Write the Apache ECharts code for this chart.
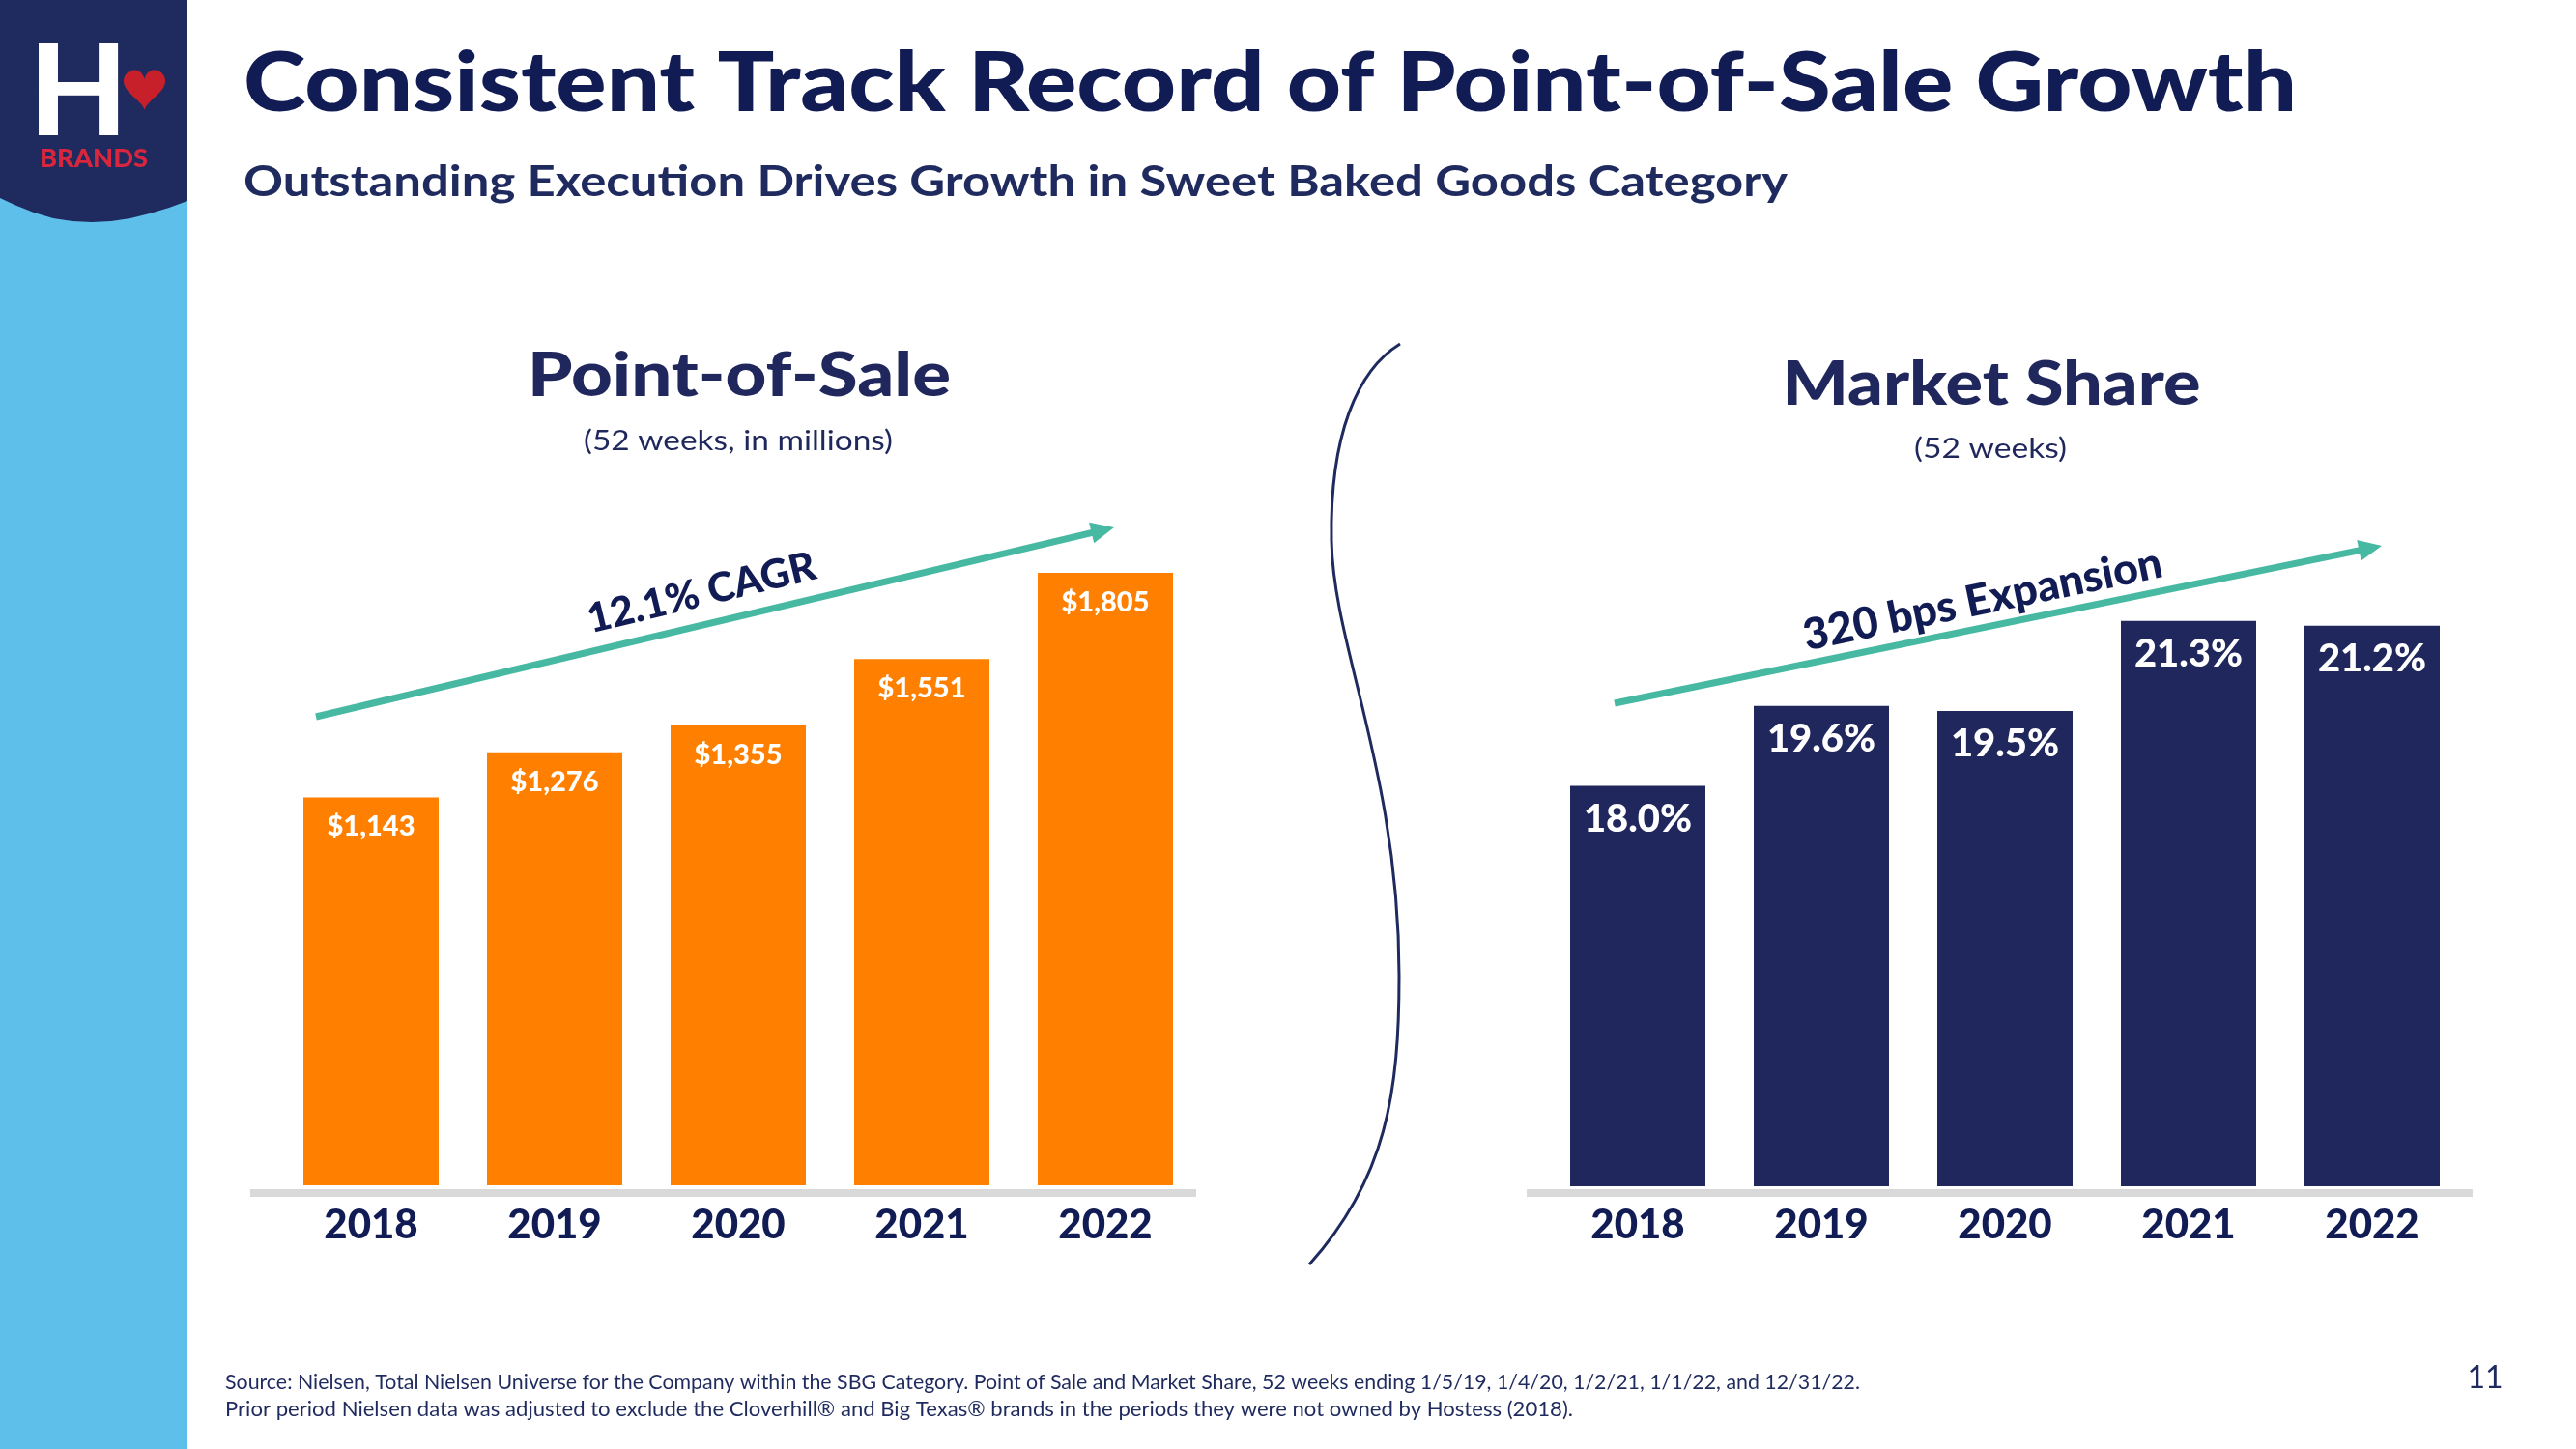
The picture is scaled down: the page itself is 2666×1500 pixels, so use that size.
<!DOCTYPE html>
<html>
<head>
<meta charset="utf-8">
<script src="https://cdn.jsdelivr.net/npm/echarts@6/dist/echarts.min.js"></script>
<style>
html,body{margin:0;padding:0;background:#fff;}
#chart{width:2666px;height:1500px;}
</style>
</head>
<body>
<div id="chart"></div>
<script>
// ---- data ----
const years = ['2018', '2019', '2020', '2021', '2022'];
const posValues = [1143, 1276, 1355, 1551, 1805];
const shareValues = [18.0, 19.6, 19.5, 21.3, 21.2];
const posTrendText = '12.1% CAGR';
const shareTrendText = '320 bps Expansion';
const mainTitle = 'Consistent Track Record of Point-of-Sale Growth';
const subTitle = 'Outstanding Execution Drives Growth in Sweet Baked Goods Category';
const posTitle = 'Point-of-Sale';
const posSub = '(52 weeks, in millions)';
const shareTitle = 'Market Share';
const shareSub = '(52 weeks)';
const footLine1 = 'Source: Nielsen, Total Nielsen Universe for the Company within the SBG Category. Point of Sale and Market Share, 52 weeks ending 1/5/19, 1/4/20, 1/2/21, 1/1/22, and 12/31/22.';
const footLine2 = 'Prior period Nielsen data was adjusted to exclude the Cloverhill\u00AE and Big Texas\u00AE brands in the periods they were not owned by Hostess (2018).';
const pageNumber = '11';

// ---- style ----
const NAVY = '#111B54';
const NAVY2 = '#1F275C';
const ORANGE = '#FF7F00';
const TEAL = '#47B9A2';
const FAMILY = 'Lato';
const FONT = 'Lato, "Noto Sans", sans-serif';

const measureCtx = document.createElement('canvas').getContext('2d');
function textWidth(text, size, weight) {
  measureCtx.font = weight + ' ' + size + 'px ' + FAMILY;
  return measureCtx.measureText(text).width;
}
// text stretched horizontally to the width the slide's (wider) typeface takes
function fitText(text, x, y, size, weight, width, align, color, z) {
  const sx = width / textWidth(text, size, weight);
  return { type: 'text', x: x, y: y, scaleX: sx, z: z || 5,
    style: { text: text, fill: color, fontSize: size, fontWeight: weight, fontFamily: FONT, align: align, verticalAlign: 'middle' } };
}

function arrow(x1, y1, x2, y2) {
  const dx = x2 - x1, dy = y2 - y1;
  const len = Math.sqrt(dx * dx + dy * dy);
  const ux = dx / len, uy = dy / len;
  const nx = -uy, ny = ux;
  const hl = 24, hw = 11;
  const bx = x2 - ux * hl, by = y2 - uy * hl;
  return [
    { type: 'line', shape: { x1: x1, y1: y1, x2: bx + ux * 2, y2: by + uy * 2 },
      style: { stroke: TEAL, lineWidth: 7 }, z: 10 },
    { type: 'polygon', shape: { points: [[x2, y2], [bx + nx * hw, by + ny * hw], [bx - nx * hw, by - ny * hw]] },
      style: { fill: TEAL }, z: 10 }
  ];
}

// logo heart outline (decoration)
function heartPoints(cx, cy, w, h) {
  const pts = [];
  for (let i = 0; i < 72; i++) {
    const t = i / 72 * Math.PI * 2;
    const x = 16 * Math.pow(Math.sin(t), 3);
    const y = 13 * Math.cos(t) - 5 * Math.cos(2 * t) - 2 * Math.cos(3 * t) - Math.cos(4 * t);
    pts.push([cx + x / 32 * w, cy - (y - 2.5) / 29 * h]);
  }
  return pts;
}

function fmtMoney(v) {
  return '$' + v.toLocaleString('en-US');
}

const chart = echarts.init(document.getElementById('chart'), null, { renderer: 'canvas' });

const graphics = [
  // sidebar
  { type: 'rect', shape: { x: 0, y: 0, width: 194, height: 1500 }, style: { fill: '#5FBFEB' }, z: 0 },
  { type: 'polygon', shape: { points: [[0, 0], [194, 0], [194, 208], [175, 215], [155, 221], [135, 226], [115, 229], [95, 230], [75, 229], [55, 226], [35, 220], [15, 212], [0, 205]] },
    style: { fill: '#1F2A5E' }, z: 1 },
  { type: 'text', x: 81, y: 97, style: { text: 'H', fill: '#ffffff', fontSize: 132, fontWeight: 900, fontFamily: FONT, align: 'center', verticalAlign: 'middle' }, z: 2 },
  { type: 'polygon', shape: { points: heartPoints(149.5, 86, 43, 42) }, style: { fill: '#C8202B' }, z: 2 },
  fitText('BRANDS', 97, 164, 27, 900, 112, 'center', '#D7263D', 2),

  // slide titles
  fitText(mainTitle, 252, 87, 86, 900, 2125, 'left', NAVY),
  fitText(subTitle, 252, 189, 44, 700, 1598, 'left', '#1F2A5E'),

  // chart headings
  fitText(posTitle, 765, 390, 62, 900, 438, 'center', NAVY2),
  fitText(posSub, 764, 457, 29, 400, 320, 'center', NAVY2),
  fitText(shareTitle, 2061, 399, 62, 900, 433, 'center', NAVY2),
  fitText(shareSub, 2060, 465, 29, 400, 158, 'center', NAVY2),

  // baselines
  { type: 'rect', shape: { x: 259, y: 1231, width: 979, height: 8 }, style: { fill: '#D9D9D9' } },
  { type: 'rect', shape: { x: 1580, y: 1231, width: 979, height: 8 }, style: { fill: '#D9D9D9' } },

  // trend labels
  { type: 'text', x: 726, y: 614, rotation: 13.6 * Math.PI / 180, style: { text: posTrendText, fill: NAVY, fontSize: 42, fontWeight: 900, fontFamily: FONT, align: 'center', verticalAlign: 'middle' }, z: 11 },
  { type: 'text', x: 2052, y: 621, rotation: 11.7 * Math.PI / 180, style: { text: shareTrendText, fill: NAVY, fontSize: 45, fontWeight: 900, fontFamily: FONT, align: 'center', verticalAlign: 'middle' }, z: 11 },

  // divider S-curve
  { type: 'bezierCurve', shape: { x1: 1449, y1: 356, cpx1: 1405, cpy1: 383, cpx2: 1376, cpy2: 450, x2: 1378, y2: 560 }, style: { stroke: '#1F2A5E', lineWidth: 3, fill: null } },
  { type: 'bezierCurve', shape: { x1: 1378, y1: 560, cpx1: 1380, cpy1: 670, cpx2: 1448, cpy2: 800, x2: 1448, y2: 1010 }, style: { stroke: '#1F2A5E', lineWidth: 3, fill: null } },
  { type: 'bezierCurve', shape: { x1: 1448, y1: 1010, cpx1: 1448, cpy1: 1130, cpx2: 1435, cpy2: 1220, x2: 1355, y2: 1309 }, style: { stroke: '#1F2A5E', lineWidth: 3, fill: null } },

  // footnote and page number
  fitText(footLine1, 233, 1431, 21, 400, 1692, 'left', '#1F2A5E'),
  fitText(footLine2, 233, 1459, 21, 400, 1395, 'left', '#1F2A5E'),
  { type: 'text', x: 2572, y: 1427, style: { text: pageNumber, fill: '#1F2A5E', fontSize: 32, fontWeight: 400, fontFamily: FONT, align: 'center', verticalAlign: 'middle' } }
].concat(arrow(327, 742, 1153, 546)).concat(arrow(1671, 728, 2465, 565));

const option = {
  animation: false,
  backgroundColor: '#ffffff',
  grid: [
    { left: 289, top: 524.6, width: 950, height: 702.4 },
    { left: 1600, top: 451, width: 950, height: 777 }
  ],
  xAxis: [
    { type: 'category', gridIndex: 0, data: years, axisLine: { show: false }, axisTick: { show: false },
      axisLabel: { fontSize: 42, fontWeight: 900, color: NAVY, fontFamily: FONT, margin: 20 } },
    { type: 'category', gridIndex: 1, data: years, axisLine: { show: false }, axisTick: { show: false },
      axisLabel: { fontSize: 42, fontWeight: 900, color: NAVY, fontFamily: FONT, margin: 19 } }
  ],
  yAxis: [
    { type: 'value', gridIndex: 0, min: 0, max: 2000, show: false, splitLine: { show: false } },
    { type: 'value', gridIndex: 1, min: 10, max: 25, show: false, splitLine: { show: false } }
  ],
  series: [
    { name: 'Point-of-Sale', type: 'bar', xAxisIndex: 0, yAxisIndex: 0, data: posValues, barWidth: 140,
      itemStyle: { color: ORANGE },
      label: { show: true, position: 'insideTop', distance: 16, color: '#ffffff', fontSize: 29, fontWeight: 900, fontFamily: FONT,
        formatter: function (p) { return fmtMoney(p.value); } } },
    { name: 'Market Share', type: 'bar', xAxisIndex: 1, yAxisIndex: 1, data: shareValues, barWidth: 140,
      itemStyle: { color: NAVY2 },
      label: { show: true, position: 'insideTop', distance: 14, color: '#ffffff', fontSize: 40, fontWeight: 900, fontFamily: FONT,
        formatter: function (p) { return p.value.toFixed(1) + '%'; } } }
  ],
  graphic: graphics
};

chart.setOption(option);
</script>
</body>
</html>
